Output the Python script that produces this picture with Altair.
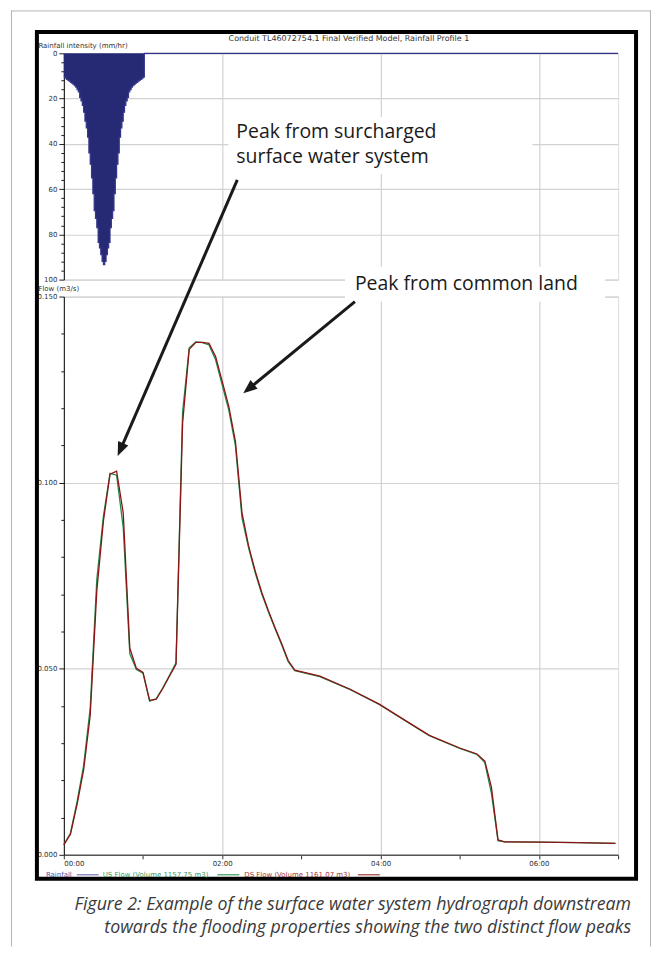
import altair as alt
import pandas as pd

# ---------------- data ----------------
# rainfall hyetograph: 1-minute steps starting at these minutes
rain_minute = list(range(61))
rain_intensity = [10.5, 11.0, 11.5, 11.9, 12.3, 12.8, 13.2, 13.7, 14.3, 15.0,
                  16.0, 17.0, 19.5, 21.0, 23.0, 26.0, 30.0, 33.0, 37.0, 44.0,
                  49.0, 55.0, 62.0, 69.5, 73.0, 77.0, 83.5, 86.0, 89.0, 92.0,
                  93.4,
                  92.0, 89.0, 86.0, 83.5, 77.0, 73.0, 69.5, 62.0, 55.0, 49.0,
                  44.0, 37.0, 33.0, 30.0, 26.0, 23.0, 21.0, 19.5, 17.0, 16.0,
                  15.0, 14.3, 13.7, 13.2, 12.8, 12.3, 11.9, 11.5, 11.0, 10.5]
rain_end_minute = 61
sim_end_minute = 420

# flow hydrographs (minutes, m3/s)
flow_minute = [0, 5, 10, 15, 20, 25, 30, 35, 40, 45, 50, 55, 60, 65, 70, 75, 80, 85,
               90, 95, 100, 105, 110, 115, 120, 125, 130, 135, 140, 145, 150, 155,
               160, 165, 170, 175, 194, 217, 239, 262, 277, 300, 313, 319, 324, 329,
               334, 360, 390, 418]
ds_flow = [0.0027, 0.0055, 0.0135, 0.0228, 0.0375, 0.0710, 0.0897, 0.1023, 0.1031,
           0.0919, 0.0555, 0.0501, 0.0490, 0.0415, 0.0418, 0.0447, 0.0480, 0.0512,
           0.1160, 0.1358, 0.1377, 0.1377, 0.1374, 0.1339, 0.1272, 0.1205, 0.1112,
           0.0919, 0.0830, 0.0763, 0.0705, 0.0656, 0.0611, 0.0568, 0.0522, 0.0496,
           0.0480, 0.0445, 0.0405, 0.0354, 0.0321, 0.0287, 0.0271, 0.0252, 0.0182,
           0.0040, 0.0035, 0.0034, 0.0033, 0.0031]
us_flow = [0.0027, 0.0058, 0.0142, 0.0240, 0.0395, 0.0740, 0.0910, 0.1025, 0.1020,
           0.0880, 0.0540, 0.0498, 0.0488, 0.0413, 0.0419, 0.0449, 0.0482, 0.0516,
           0.1190, 0.1362, 0.1378, 0.1376, 0.1370, 0.1330, 0.1262, 0.1195, 0.1100,
           0.0905, 0.0825, 0.0758, 0.0701, 0.0653, 0.0608, 0.0565, 0.0519, 0.0495,
           0.0479, 0.0444, 0.0404, 0.0353, 0.0320, 0.0286, 0.0270, 0.0248, 0.0165,
           0.0038, 0.0035, 0.0034, 0.0033, 0.0031]

x_hours = list(range(8))
rain_ticks = list(range(0, 101, 4))
flow_ticks = [round(i * 0.01, 2) for i in range(16)]

title_text = "Conduit TL46072754.1 Final Verified Model, Rainfall Profile 1"
legend_labels = ["Rainfall", "US Flow (Volume 1157.75 m3)", "DS Flow (Volume 1161.07 m3)"]
ann1 = ["Peak from surcharged", "surface water system"]
ann2 = "Peak from common land"
caption = ["Figure 2: Example of the surface water system hydrograph downstream",
           "towards the flooding properties showing the two distinct flow peaks"]

# ---------------- styling ----------------
FONT = "DejaVu Sans"
NAVY = "#262a75"
RAIN_LINE = "#33368a"
US_COL = "#1f8c4e"
DS_COL = "#8e1414"
GRID = "#d2d2d2"

rain_df = pd.DataFrame({
    "t": [m / 60 for m in rain_minute] + [rain_end_minute / 60, sim_end_minute / 60],
    "i": rain_intensity + [0, 0],
})
flow_df = pd.DataFrame({
    "t": [m / 60 for m in flow_minute],
    "us": us_flow,
    "ds": ds_flow,
})

x_scale = alt.Scale(domain=[0, 7], nice=False, zero=False)

rain_x = alt.X("t:Q", scale=x_scale, title=None,
               axis=alt.Axis(values=[2, 4, 6], labels=False, ticks=False, domain=False,
                             grid=True, gridColor=GRID, gridWidth=1.2))
major20 = "datum.value % 20 === 0"
rain_y = alt.Y("i:Q", scale=alt.Scale(domain=[0, 100], reverse=True, nice=False),
               title="Rainfall intensity (mm/hr)",
               axis=alt.Axis(values=rain_ticks,
                             labelExpr=f"{major20} ? datum.label : ''",
                             gridOpacity={"condition": {"test": major20, "value": 1}, "value": 0},
                             tickSize={"condition": {"test": major20, "value": 5}, "value": 3},
                             gridColor=GRID, gridWidth=1.2,
                             domainColor="#000000", domainWidth=1,
                             tickColor="#222222", labelPadding=2,
                             labelFont=FONT, labelFontSize=7, labelColor="#333333",
                             titleFont=FONT, titleFontSize=7, titleColor="#333333",
                             titleAngle=0, titleAlign="left", titleBaseline="middle",
                             titleX=-26, titleY=-8, titleFontWeight="normal"))

rain_area = alt.Chart(rain_df).mark_area(interpolate="step-after", color=NAVY).encode(
    x=rain_x, y=rain_y)
rain_line = alt.Chart(rain_df).mark_line(interpolate="step-after", color=RAIN_LINE,
                                         strokeWidth=1.2).encode(x=rain_x, y=rain_y)
rain_chart = alt.layer(rain_area, rain_line).properties(width=556, height=227)

major05 = "abs(datum.value * 20 - round(datum.value * 20)) < 0.001"
flow_x = alt.X("t:Q", scale=x_scale, title=None,
               axis=alt.Axis(values=x_hours,
                             labelExpr="datum.value % 2 === 0 ? '0' + datum.value + ':00' : ''",
                             gridOpacity={"condition": {"test": "datum.value % 2 === 0 && datum.value > 0",
                                                        "value": 1}, "value": 0},
                             gridColor=GRID, gridWidth=1.2,
                             domainColor="#555555", domainWidth=1.5,
                             labelFont=FONT, labelFontSize=7, labelColor="#333333",
                             tickColor="#333333", tickSize=4, labelPadding=1))
flow_axis_y = alt.Axis(values=flow_ticks,
                       labelExpr=f"{major05} ? format(datum.value, '.3f') : ''",
                       gridOpacity={"condition": {"test": f"{major05} && datum.value > 0", "value": 1},
                                    "value": 0},
                       tickSize={"condition": {"test": major05, "value": 5}, "value": 3},
                       gridColor=GRID, gridWidth=1.2,
                       domainColor="#000000", domainWidth=1,
                       tickColor="#222222", labelPadding=2,
                       labelFont=FONT, labelFontSize=7, labelColor="#333333",
                       titleFont=FONT, titleFontSize=7, titleColor="#333333",
                       titleAngle=0, titleAlign="left", titleBaseline="middle",
                       titleX=-26, titleY=-8, titleFontWeight="normal")
flow_scale = alt.Scale(domain=[0, 0.15], nice=False)

us_line = alt.Chart(flow_df).mark_line(color=US_COL, strokeWidth=1.3).encode(
    x=flow_x, y=alt.Y("us:Q", scale=flow_scale, axis=flow_axis_y, title="Flow (m3/s)"))
ds_line = alt.Chart(flow_df).mark_line(color=DS_COL, strokeWidth=1.3).encode(
    x=flow_x, y=alt.Y("ds:Q", scale=flow_scale, axis=flow_axis_y, title="Flow (m3/s)"))

one = pd.DataFrame({"k": [0]})
base = alt.Chart(one)


def rect(x, x2, y, y2, **kw):
    return base.mark_rect(**kw).encode(x=alt.value(x), x2=alt.value(x2),
                                       y=alt.value(y), y2=alt.value(y2))


def rule(x, y, x2, y2, **kw):
    return base.mark_rule(**kw).encode(x=alt.value(x), x2=alt.value(x2),
                                       y=alt.value(y), y2=alt.value(y2))


def text(s, x, y, **kw):
    return base.mark_text(text=s, **kw).encode(x=alt.value(x), y=alt.value(y))


# coordinates below are relative to the flow panel's plot origin
deco = [
    rect(-55, 589, -287, 652, fill="#ffffff", fillOpacity=0),
    rule(-52.5, -287, -52.5, 652, color="#b4b4b4", strokeWidth=1),
    rule(-53, -286.5, 589, -286.5, color="#b4b4b4", strokeWidth=1),
    rule(588.5, -287, 588.5, 652, color="#b4b4b4", strokeWidth=1),
    rect(-27, 574, -265.5, 584, fill="#ffffff", fillOpacity=0, stroke="#000000", strokeWidth=4),
    text(title_text, 286, -258, font=FONT, fontSize=8, color="#333333", align="center",
         baseline="middle"),
    rect(165, 470, -180, -123, fill="#ffffff"),
    rect(282, 543, -30, 5, fill="#ffffff"),
    text(ann1[0], 173, -165, font="Open Sans", fontSize=19.5, color="#1a1a1a", align="left",
         baseline="middle"),
    text(ann1[1], 173, -140, font="Open Sans", fontSize=19.5, color="#1a1a1a", align="left",
         baseline="middle"),
    text(ann2, 292, -13, font="Open Sans", fontSize=19.5, color="#1a1a1a", align="left",
         baseline="middle"),
    rule(174, -117, 58, 150.8, color="#1a1a1a", strokeWidth=3),
    rule(292, 5, 187.7, 90.7, color="#1a1a1a", strokeWidth=3),
    base.mark_point(shape="M0,0L-0.7,1.75L0.7,1.75Z", filled=True, size=256, opacity=1,
                    color="#1a1a1a", angle=203.4).encode(x=alt.value(54), y=alt.value(160)),
    base.mark_point(shape="M0,0L-0.7,1.75L0.7,1.75Z", filled=True, size=256, opacity=1,
                    color="#1a1a1a", angle=230.6).encode(x=alt.value(180), y=alt.value(97)),
    # legend
    text(legend_labels[0], -18, 580, font=FONT, fontSize=7, color="#5555a5", align="left",
         baseline="middle"),
    rule(13, 580, 35, 580, color="#7777bb", strokeWidth=1.2),
    text(legend_labels[1], 39, 580, font=FONT, fontSize=7, color="#3a9a5c", align="left",
         baseline="middle"),
    rule(154, 580, 176, 580, color="#3a9a5c", strokeWidth=1.2),
    text(legend_labels[2], 181, 580, font=FONT, fontSize=7, color="#a33a3a", align="left",
         baseline="middle"),
    rule(295, 580, 317, 580, color="#a33a3a", strokeWidth=1.2),
    # caption
    text(caption[0], 569, 610, font="Open Sans", fontSize=17.8, fontStyle="italic",
         color="#3a3a3a", align="right", baseline="middle"),
    text(caption[1], 569, 633, font="Open Sans", fontSize=17.8, fontStyle="italic",
         color="#3a3a3a", align="right", baseline="middle"),
]

flow_chart = alt.layer(us_line, ds_line, *deco).properties(width=556, height=560)

chart = alt.vconcat(rain_chart, flow_chart, spacing=17, bounds="flush").properties(
    padding=0
).configure_view(stroke=None).configure(background="#ffffff")

chart.save("out.html", embed_options={"renderer": "svg", "actions": False})
